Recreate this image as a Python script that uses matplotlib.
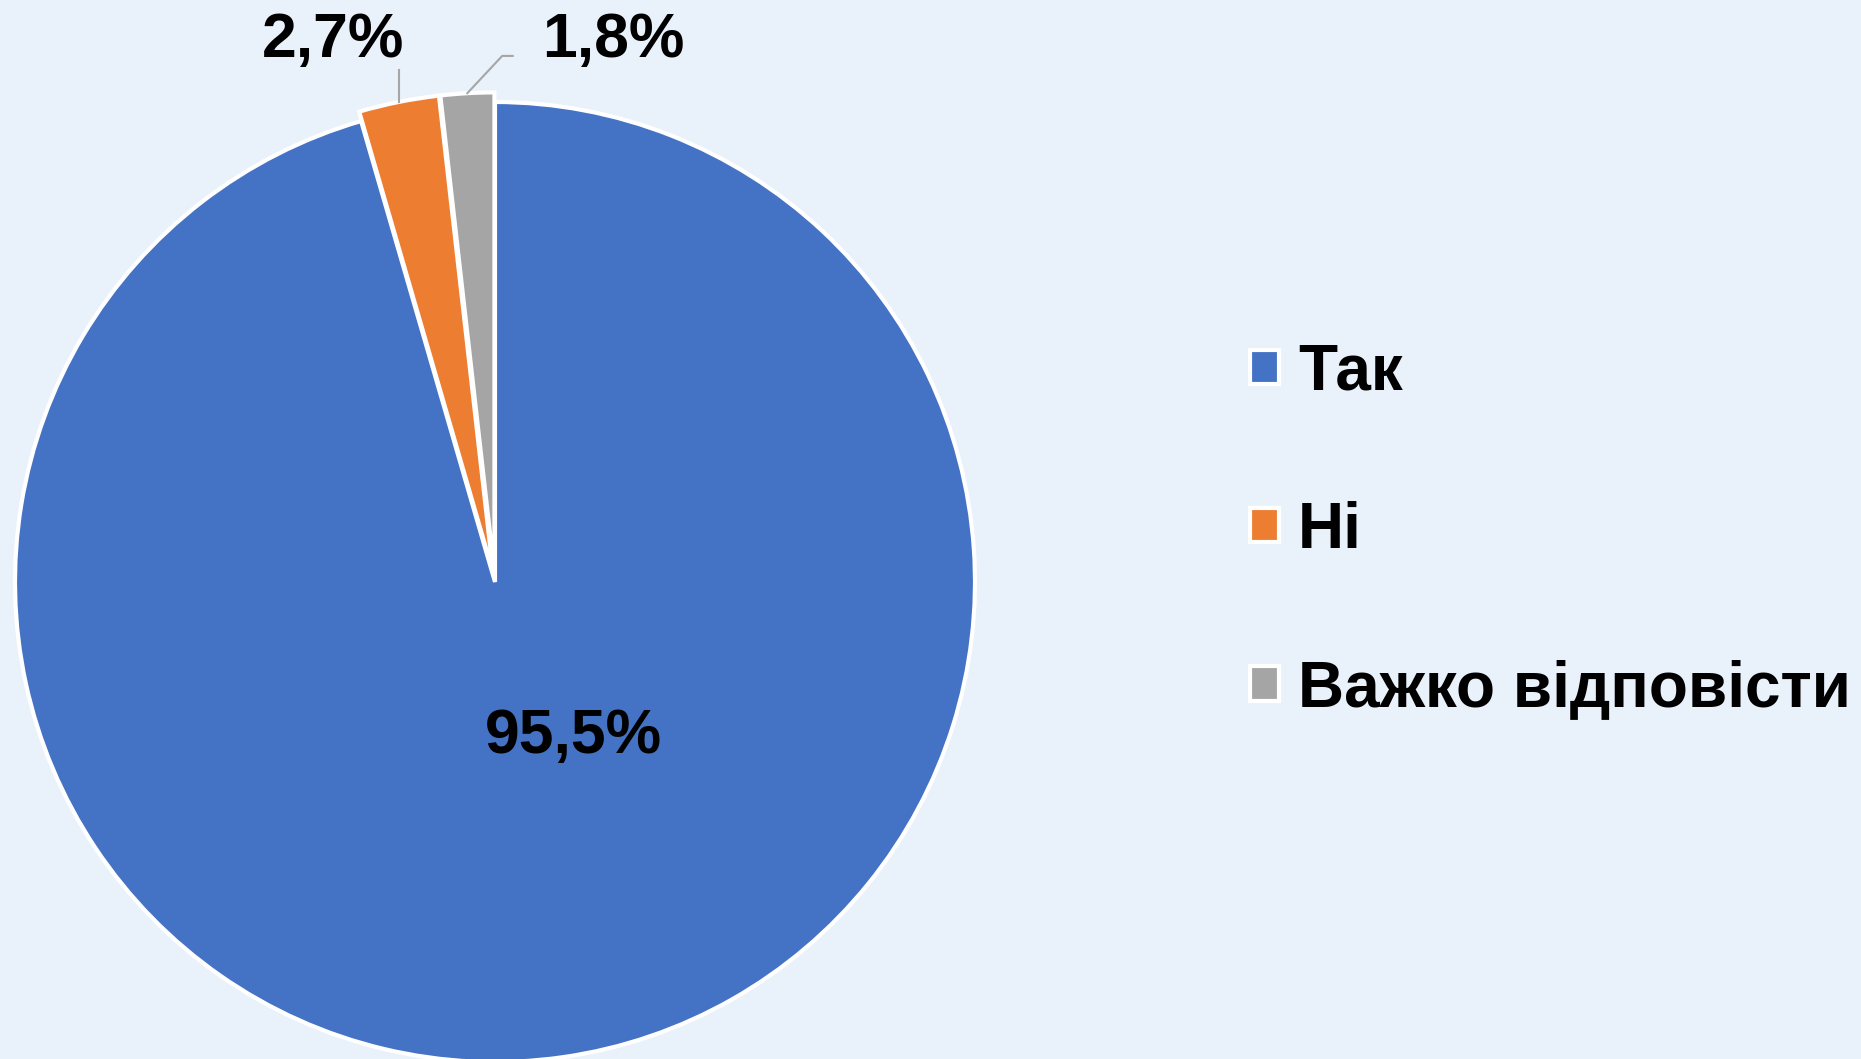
import numpy as np
import matplotlib
matplotlib.use('Agg')
import matplotlib.pyplot as plt

plt.rcParams['font.family'] = ['Liberation Sans', 'DejaVu Sans']

# Data
categories = ['Так', 'Ні', 'Важко відповісти']
values = [95.5, 2.7, 1.8]
labels = ['95,5%', '2,7%', '1,8%']
colors = ['#4472C4', '#ED7D31', '#A5A5A5']
explode = [0, 0.02, 0.02]

W, H = 1861, 1059
fig = plt.figure(figsize=(W / 100, H / 100), dpi=100)
fig.patch.set_facecolor('#e9f1fb')

# pie centre (495, 582) px from top-left, radius 480 px
R = 480
cx, cy = 495, H - 582
lim = 1.2
side = 2 * lim * R
ax = fig.add_axes([(cx - side / 2) / W, (cy - side / 2) / H, side / W, side / H])
ax.set_facecolor('none')

wedges, _ = ax.pie(values, colors=colors, startangle=90, counterclock=False,
                   explode=explode,
                   wedgeprops=dict(edgecolor='white', linewidth=3))
ax.set_xlim(-lim, lim)
ax.set_ylim(-lim, lim)
ax.set_aspect('equal')
ax.axis('off')

# label inside big slice
ax.text(0.1625, -0.356, labels[0], ha='center', va='baseline',
        fontsize=45, fontweight='bold', color='black')

# outer labels with leader lines
def mid_angle(w):
    return np.deg2rad((w.theta1 + w.theta2) / 2)

a1 = mid_angle(wedges[1])
x1, y1 = 1.02 * np.cos(a1), 1.02 * np.sin(a1)
ax.plot([x1, x1], [y1, 1.067], color='#a6a6a6', lw=1.5, clip_on=False)
ax.text(-0.337, 1.094, labels[1], ha='center', va='baseline',
        fontsize=45, fontweight='bold', color='black')

a2 = mid_angle(wedges[2])
x2, y2 = 1.02 * np.cos(a2), 1.02 * np.sin(a2)
ax.plot([x2, 0.015, 0.037], [y2, 1.096, 1.096], color='#a6a6a6', lw=1.5, clip_on=False)
ax.text(0.247, 1.094, labels[2], ha='center', va='baseline',
        fontsize=45, fontweight='bold', color='black')

leg = fig.legend(wedges, categories, loc='center left',
                 bbox_to_anchor=(1250 / W, (H - 531) / H),
                 frameon=False, prop=dict(size=46, weight='bold'),
                 handlelength=0.45, handleheight=0.45, handletextpad=0.3,
                 labelspacing=1.54, borderpad=0, borderaxespad=0)

fig.savefig('out.png', dpi=100, facecolor=fig.get_facecolor())
